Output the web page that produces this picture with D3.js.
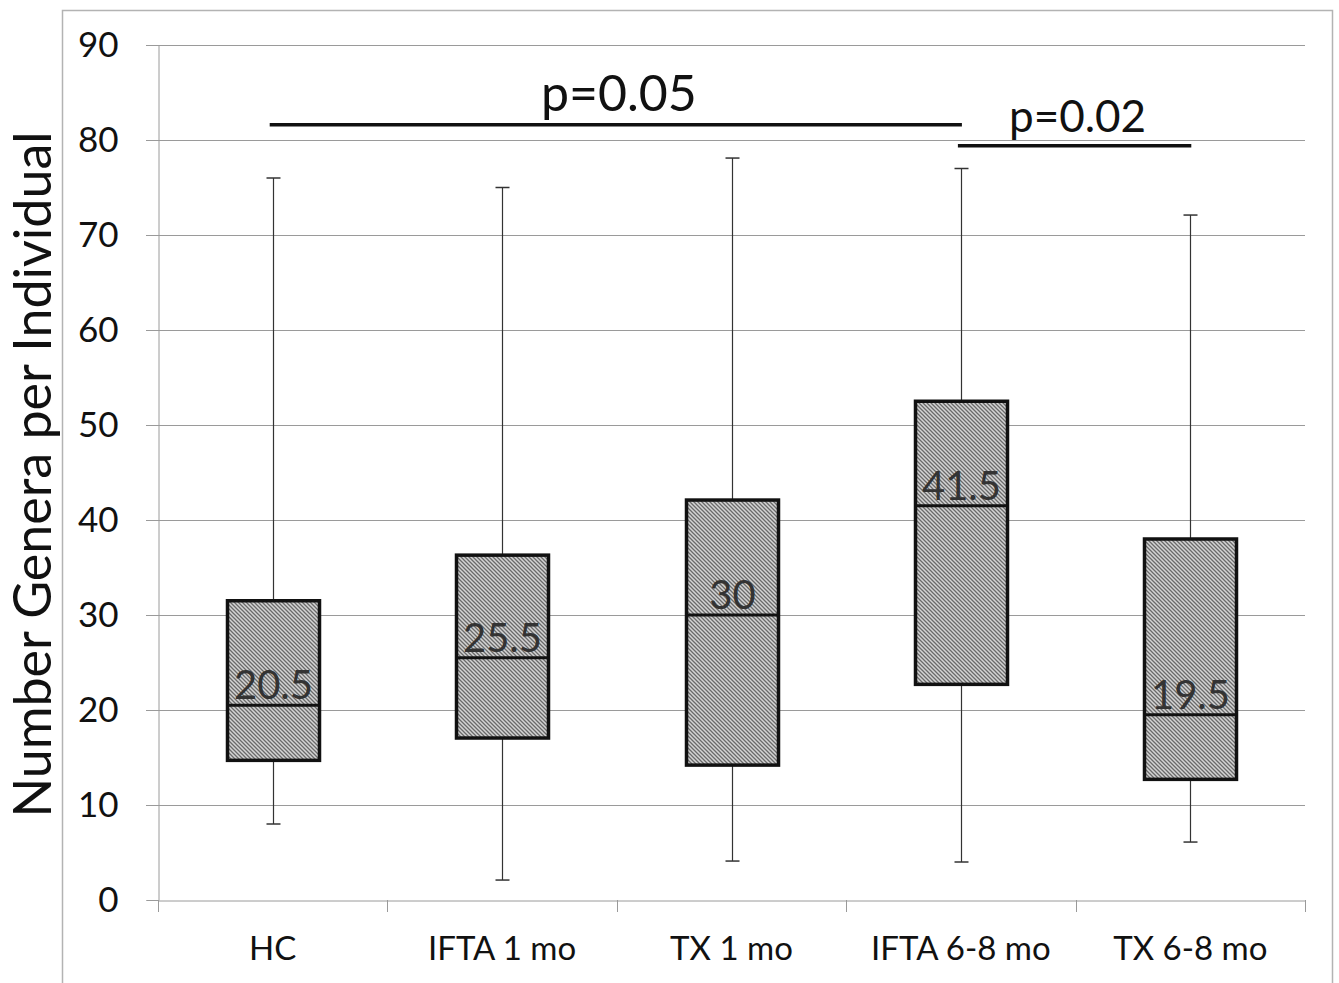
<!DOCTYPE html>
<html>
<head>
<meta charset="utf-8">
<script src="https://cdn.jsdelivr.net/npm/d3@7"></script>
<style>
  body { margin: 0; background: #fff; }
  svg text { font-family: Lato, "Open Sans", sans-serif; }
</style>
</head>
<body>
<div id="chart"></div>
<script>
// Daten
const groups = ["HC", "IFTA 1 mo", "TX 1 mo", "IFTA 6-8 mo", "TX 6-8 mo"];
const whiskerMin = [8, 2.1, 4.1, 4, 6.1];
const boxLow = [14.7, 17.05, 14.2, 22.7, 12.7];
const medians = [20.5, 25.5, 30, 41.5, 19.5];
const boxHigh = [31.5, 36.3, 42.1, 52.5, 38];
const whiskerMax = [76, 75, 78.1, 77, 72.1];
const medianLabels = ["20.5", "25.5", "30", "41.5", "19.5"];
const yTicks = [0, 10, 20, 30, 40, 50, 60, 70, 80, 90];

// Signifikanz-Balken
const sigBars = [
    { from: "HC", to: "IFTA 6-8 mo", y: 81.6, label: "p=0.05", size: 50 },
    { from: "IFTA 6-8 mo", to: "TX 6-8 mo", y: 79.4, label: "p=0.02", size: 44 }
];

const width = 1339, height = 983;
const margin = { left: 158, right: 34, top: 45, bottom: 83 };

const svg = d3.select("#chart")
    .append("svg")
    .attr("width", width)
    .attr("height", height);

// Schraffur-Muster
const pattern = svg.append("defs")
    .append("pattern")
    .attr("id", "hatch")
    .attr("patternUnits", "userSpaceOnUse")
    .attr("width", 4)
    .attr("height", 4);
pattern.append("rect")
    .attr("width", 4).attr("height", 4)
    .attr("fill", "#d4d4d4");
pattern.append("path")
    .attr("d", "M-1,-1 L5,5 M-1,3 L1,5 M3,-1 L5,1")
    .attr("stroke", "#6a6a6a")
    .attr("stroke-width", 1.3);

// Rahmen
svg.append("rect")
    .attr("x", 62.5).attr("y", 10.5)
    .attr("width", 1270).attr("height", 1000)
    .attr("fill", "none")
    .attr("stroke", "#b3b3b3")
    .attr("stroke-width", 1.5);

const x = d3.scaleBand()
    .domain(groups)
    .range([margin.left, width - margin.right]);

const y = d3.scaleLinear()
    .domain([0, 90])
    .range([height - margin.bottom, margin.top]);

// Gitterlinien
svg.append("g")
    .selectAll("line")
    .data(yTicks.filter(d => d > 0))
    .enter()
    .append("line")
    .attr("x1", margin.left - 12)
    .attr("x2", width - margin.right)
    .attr("y1", d => Math.round(y(d)) + 0.5)
    .attr("y2", d => Math.round(y(d)) + 0.5)
    .attr("stroke", "#9a9a9a")
    .attr("stroke-width", 1);

// Y-Achse
const yAxis = svg.append("g")
    .attr("transform", `translate(${margin.left + 0.5},0)`)
    .call(d3.axisLeft(y).tickValues(yTicks).tickSize(12).tickPadding(28));
yAxis.select(".domain").attr("stroke", "#9a9a9a");
yAxis.selectAll(".tick line").attr("stroke", "#9a9a9a");
yAxis.selectAll(".tick text")
    .attr("fill", "#111")
    .style("font-size", "35px");

// X-Achse
const xAxis = svg.append("g")
    .attr("transform", `translate(0,${Math.round(y(0)) + 0.5})`)
    .call(d3.axisBottom(x).tickSize(0).tickPadding(36));
xAxis.select(".domain").attr("stroke", "#9a9a9a");
xAxis.selectAll(".tick text")
    .attr("fill", "#111")
    .style("font-size", "33px");

// Trennstriche zwischen Kategorien
svg.append("g")
    .selectAll("line")
    .data(groups.concat(["__end"]))
    .enter()
    .append("line")
    .attr("x1", (d, i) => Math.round(margin.left + i * x.bandwidth()) + 0.5)
    .attr("x2", (d, i) => Math.round(margin.left + i * x.bandwidth()) + 0.5)
    .attr("y1", y(0))
    .attr("y2", y(0) + 12)
    .attr("stroke", "#9a9a9a");

// Achsentitel
svg.append("text")
    .attr("transform", `translate(51,${(y(0) + y(90)) / 2 + 2}) rotate(-90)`)
    .attr("text-anchor", "middle")
    .style("font-size", "52px")
    .attr("fill", "#111")
    .text("Number Genera per Individual");

const boxW = 92;
const capW = 14;

const g = svg.append("g");
groups.forEach((grp, i) => {
    const cx = Math.round(x(grp) + x.bandwidth() / 2) + 0.5;

    // Whisker
    g.append("line")
        .attr("x1", cx).attr("x2", cx)
        .attr("y1", y(whiskerMax[i])).attr("y2", y(whiskerMin[i]))
        .attr("stroke", "#333").attr("stroke-width", 1.2);
    [whiskerMax[i], whiskerMin[i]].forEach(v => {
        g.append("line")
            .attr("x1", cx - capW / 2).attr("x2", cx + capW / 2)
            .attr("y1", y(v)).attr("y2", y(v))
            .attr("stroke", "#333").attr("stroke-width", 1.5);
    });

    // Box
    g.append("rect")
        .attr("x", cx - boxW / 2)
        .attr("y", y(boxHigh[i]))
        .attr("width", boxW)
        .attr("height", y(boxLow[i]) - y(boxHigh[i]))
        .attr("fill", "url(#hatch)")
        .attr("stroke", "#111")
        .attr("stroke-width", 3.5);

    // Median
    g.append("line")
        .attr("x1", cx - boxW / 2).attr("x2", cx + boxW / 2)
        .attr("y1", y(medians[i])).attr("y2", y(medians[i]))
        .attr("stroke", "#111").attr("stroke-width", 3);

    g.append("text")
        .attr("x", cx)
        .attr("y", y(medians[i]) - 6)
        .attr("text-anchor", "middle")
        .style("font-size", "40px")
        .attr("fill", "#333")
        .text(medianLabels[i]);
});

// Signifikanz
sigBars.forEach(s => {
    const x1 = x(s.from) + x.bandwidth() / 2 - 3;
    const x2 = x(s.to) + x.bandwidth() / 2 + 1;
    svg.append("line")
        .attr("x1", x1).attr("x2", x2)
        .attr("y1", y(s.y)).attr("y2", y(s.y))
        .attr("stroke", "#111").attr("stroke-width", 3.5);
    svg.append("text")
        .attr("x", (x1 + x2) / 2 + 3)
        .attr("y", y(s.y) - 14)
        .attr("text-anchor", "middle")
        .style("font-size", s.size + "px")
        .attr("fill", "#111")
        .text(s.label);
});
</script>
</body>
</html>
